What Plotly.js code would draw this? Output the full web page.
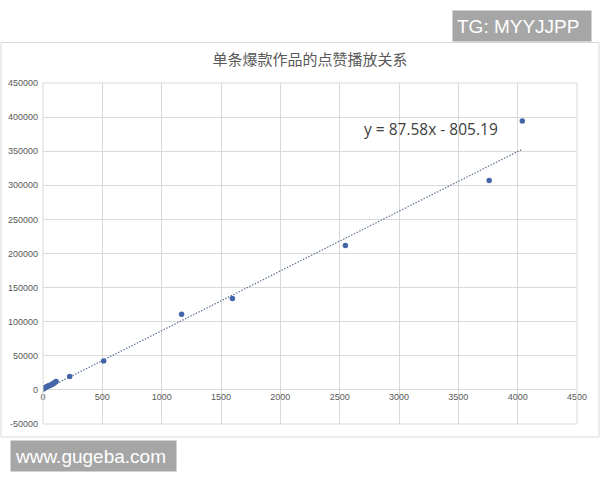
<!DOCTYPE html>
<html>
<head>
<meta charset="utf-8">
<script src="https://cdn.plot.ly/plotly-3.0.1.min.js"></script>
<style>
html,body{margin:0;padding:0;background:#fff;}
#chart{width:600px;height:480px;}
</style>
</head>
<body>
<div id="chart"></div>
<script>
// Data (x = 点赞, y = 播放)
const likes = [3, 8, 12, 18, 25, 32, 40, 48, 56, 65, 74, 82, 90, 100, 110, 225, 511, 1168, 1596, 2548, 3760, 4039];
const plays = [1500, 2200, 2800, 3400, 4000, 4700, 5300, 6000, 6600, 7300, 8000, 8800, 9600, 10800, 12200, 19500, 42500, 111000, 133900, 211600, 306900, 394400];
// Trendline as printed on the chart
const slope = 87.58;
const intercept = -805.19;
const trendX = [0, 4039];
const trendY = trendX.map(v => slope * v + intercept);
const xTicks = [0, 500, 1000, 1500, 2000, 2500, 3000, 3500, 4000, 4500];
const yTicks = [-50000, 0, 50000, 100000, 150000, 200000, 250000, 300000, 350000, 400000, 450000];

const W = 600, H = 480;
const M = {l: 43, r: 23, t: 83, b: 56};
const pw = W - M.l - M.r, ph = H - M.t - M.b;
const px = x => (x - M.l) / pw;
const py = y => (H - M.b - y) / ph;

const grey = '#595959';
const tickFont = {family: 'Liberation Sans, Arial, sans-serif', size: 9, color: grey};

const traces = [
  {
    x: trendX, y: trendY, type: 'scatter', mode: 'lines',
    line: {color: '#5d7092', width: 1.2, dash: '1.5px,1.5px'},
    hoverinfo: 'skip', showlegend: false
  },
  {
    x: likes, y: plays, type: 'scatter', mode: 'markers',
    marker: {color: '#4466a8', size: 5.5},
    showlegend: false
  }
];

const layout = {
  width: W, height: H,
  margin: M,
  paper_bgcolor: '#ffffff',
  plot_bgcolor: '#ffffff',
  showlegend: false,
  title: {
    text: '单条爆款作品的点赞播放关系',
    font: {family: 'Noto Sans CJK SC, sans-serif', size: 15, color: grey},
    x: 0.5, xref: 'paper', xanchor: 'center',
    y: 1 - 60 / H, yref: 'container', yanchor: 'middle'
  },
  xaxis: {
    range: [0, 4500],
    tickvals: xTicks,
    ticktext: xTicks.map(String),
    showgrid: true, gridcolor: '#d9d9d9', gridwidth: 1,
    zeroline: false, showline: false,
    ticks: '', tickfont: tickFont,
    anchor: 'free', position: 0.1,
    fixedrange: true
  },
  yaxis: {
    range: [-50000, 450000],
    tickvals: yTicks,
    ticktext: yTicks.map(String),
    showgrid: true, gridcolor: '#d9d9d9', gridwidth: 1,
    zeroline: false, showline: false,
    ticks: '', tickfont: tickFont,
    ticklabelstandoff: 4,
    fixedrange: true
  },
  shapes: [
    {type: 'rect', xref: 'paper', yref: 'paper',
     x0: px(1), x1: px(599), y0: py(437), y1: py(42.5),
     line: {color: '#d9d9d9', width: 1}, fillcolor: 'rgba(0,0,0,0)', layer: 'below'},
    {type: 'line', xref: 'paper', yref: 'paper',
     x0: 1, x1: 1, y0: 0, y1: 1, line: {color: '#d9d9d9', width: 1}},
    {type: 'line', xref: 'paper', yref: 'paper',
     x0: 0, x1: 1, y0: 1, y1: 1, line: {color: '#d9d9d9', width: 1}},
    {type: 'line', xref: 'paper', yref: 'paper',
     x0: 0, x1: 1, y0: 0, y1: 0, line: {color: '#d9d9d9', width: 1}},
    {type: 'line', xref: 'paper', yref: 'paper',
     x0: 0, x1: 0, y0: 0, y1: 1, line: {color: '#d9d9d9', width: 1}}
  ],
  annotations: [
    {text: 'y = 87.58x - 805.19', xref: 'paper', yref: 'paper',
     x: px(431), y: py(129), xanchor: 'center', yanchor: 'middle', showarrow: false,
     font: {family: 'Open Sans, sans-serif', size: 15.5, color: '#404040'}},
    {text: 'TG: MYYJJPP', xref: 'paper', yref: 'paper',
     x: px(452), y: py(10), xanchor: 'left', yanchor: 'top', showarrow: false,
     bgcolor: '#a6a6a6', borderpad: 4, width: 130, height: 22, align: 'left',
     font: {family: 'Liberation Sans, Arial, sans-serif', size: 19, color: '#ffffff'}},
    {text: 'www.gugeba.com', xref: 'paper', yref: 'paper',
     x: px(10), y: py(440), xanchor: 'left', yanchor: 'top', showarrow: false,
     bgcolor: '#a6a6a6', borderpad: 4, width: 157, height: 22, align: 'left',
     font: {family: 'Liberation Sans, Arial, sans-serif', size: 19, color: '#ffffff'}}
  ]
};

Plotly.newPlot('chart', traces, layout, {displayModeBar: false, staticPlot: true});
</script>
</body>
</html>
